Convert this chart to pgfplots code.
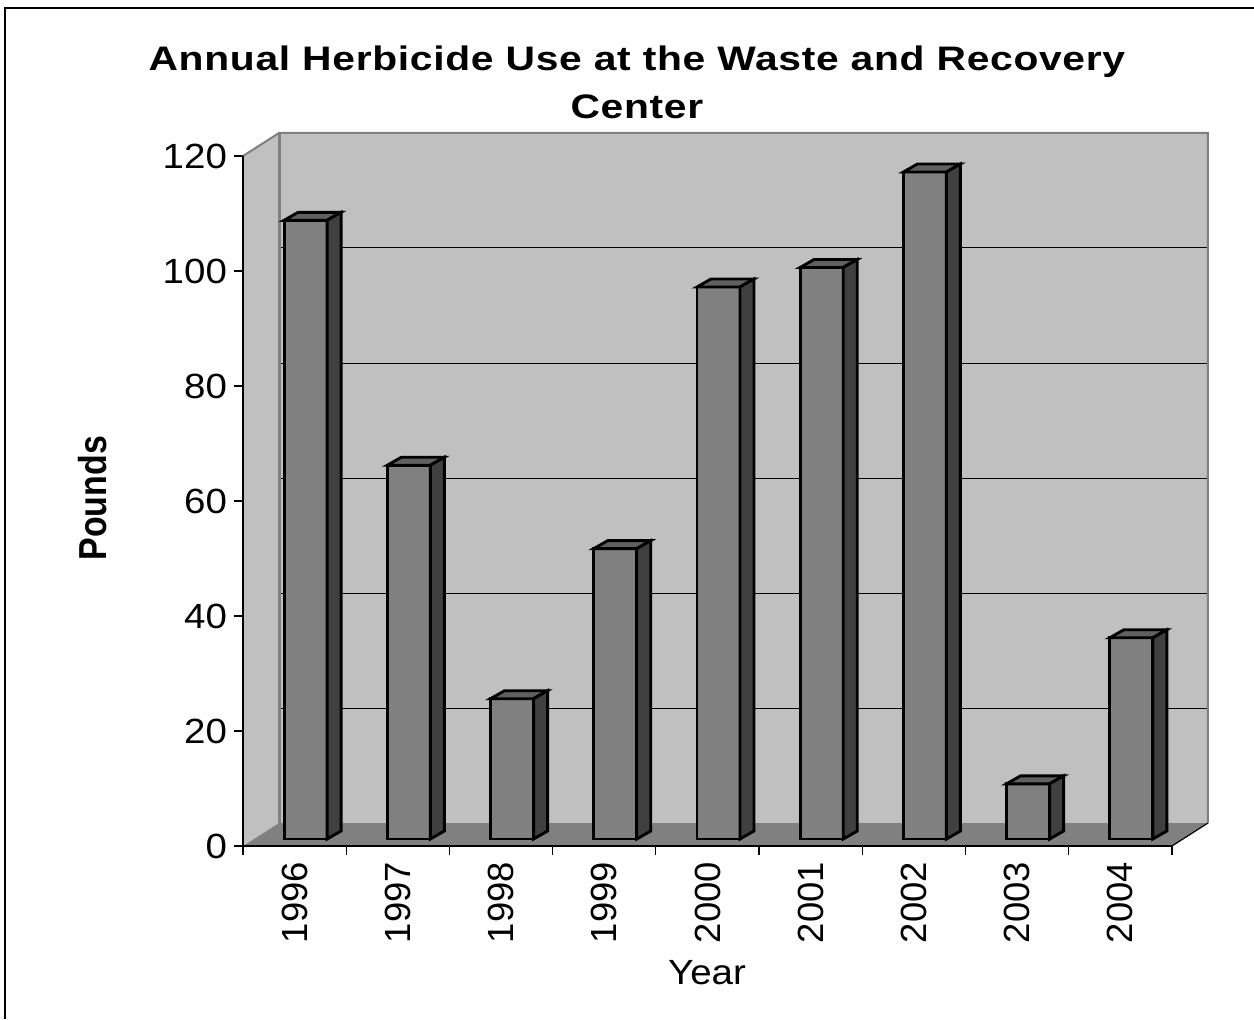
\documentclass[border=0pt]{standalone}
\usepackage{pgfplots}
\pgfplotsset{compat=1.18}
\usepackage{pgfplotstable}
\usepackage{fontspec}
\setmainfont{Liberation Sans}
\newfontfamily\titlefont[FakeStretch=1.2,LetterSpace=2]{Liberation Sans}
\newfontfamily\widefont[FakeStretch=1.1]{Liberation Sans}
\newfontfamily\tallfont[FakeStretch=0.87]{Liberation Sans}
\definecolor{wallc}{HTML}{C0C0C0}
\definecolor{floorc}{HTML}{808080}
\definecolor{edgec}{HTML}{808080}
\definecolor{barfront}{HTML}{808080}
\definecolor{bartop}{HTML}{606060}
\definecolor{barside}{HTML}{404040}

\pgfplotstableread{
x v
0 107.6
1 65
2 24.4
3 50.5
4 96
5 99.4
6 116
7 9.6
8 35
}\herb

\pgfdeclareplotmark{bar3d}{%
  \pgfmathsetmacro\hb{-\barval*2.875}%
  \pgfmathsetmacro\hs{4-\barval*2.875}%
  \pgfsetlinewidth{1.45pt}%
  \pgfsetstrokecolor{black}%
  \pgfsetmiterjoin
  \pgfsetfillcolor{barfront}%
  \pgfpathrectanglecorners{\pgfqpoint{-10.75pt}{\hb pt}}{\pgfqpoint{10.75pt}{0pt}}%
  \pgfusepath{fill,stroke}%
  \pgfsetfillcolor{bartop}%
  \pgfpathmoveto{\pgfqpoint{-10.75pt}{0pt}}%
  \pgfpathlineto{\pgfqpoint{10.75pt}{0pt}}%
  \pgfpathlineto{\pgfqpoint{17.75pt}{4pt}}%
  \pgfpathlineto{\pgfqpoint{-3.75pt}{4pt}}%
  \pgfpathclose
  \pgfusepath{fill,stroke}%
  \pgfsetfillcolor{barside}%
  \pgfpathmoveto{\pgfqpoint{10.75pt}{0pt}}%
  \pgfpathlineto{\pgfqpoint{17.75pt}{4pt}}%
  \pgfpathlineto{\pgfqpoint{17.75pt}{\hs pt}}%
  \pgfpathlineto{\pgfqpoint{10.75pt}{\hb pt}}%
  \pgfpathclose
  \pgfusepath{fill,stroke}%
}

\begin{document}
\begin{tikzpicture}
\useasboundingbox (-121.5pt,-86.5pt) rectangle (505.5pt,423pt);
\draw[black, line width=1pt] (-119pt,-86.5pt) -- (-119pt,419pt) -- (505.5pt,419pt);
\begin{axis}[
  at={(0pt,0pt)}, anchor=south west,
  x=51.61pt, y=2.875pt,
  xmin=-0.5, xmax=8.5, ymin=0, ymax=120,
  enlargelimits=false, clip=false,
  axis on top,
  axis x line*=bottom, axis y line*=left,
  axis line style={black, line width=0.6pt, -},
  tick align=outside,
  major tick length=4.5pt,
  tick style={black, line width=0.6pt},
  /pgf/number format/assume math mode=true,
  xtick={-0.5,0.5,...,8.5},
  x tick label as interval,
  xticklabels={1996,1997,1998,1999,2000,2001,2002,2003,2004},
  xticklabel style={rotate=90, anchor=east, font=\fontsize{18.2}{20}\selectfont},
  ytick={0,20,...,120},
  yticklabel style={font=\widefont\fontsize{17.5}{20}\selectfont},
  title={Annual Herbicide Use at the Waste and Recovery\\Center},
  title style={at={(axis description cs:0.424,1.089)}, anchor=center, align=center,
    font=\titlefont\bfseries\fontsize{17}{24}\selectfont},
  xlabel={Year},
  xlabel style={at={(axis description cs:0.4995,-0.184)}, anchor=center,
    font=\widefont\fontsize{17.5}{20}\selectfont},
  ylabel={Pounds},
  ylabel style={at={(axis description cs:-0.1615,0.504)}, anchor=center,
    font=\tallfont\bfseries\fontsize{19.5}{22}\selectfont},
]
% left wall
\fill[wallc] (axis cs:-0.5,0) -- (axis cs:-0.5,120) -- (axis cs:-0.1512,124) -- (axis cs:-0.1512,4) -- cycle;
% back wall
\fill[wallc] (axis cs:-0.1512,4) rectangle (axis cs:8.8488,124);
% floor
\fill[floorc] (axis cs:-0.5,0) -- (axis cs:-0.1512,4) -- (axis cs:8.8488,4) -- (axis cs:8.5,0) -- cycle;
% gridlines on back wall
\pgfplotsinvokeforeach{24,44,64,84,104}{
  \draw[black, line width=0.5pt] (axis cs:-0.1512,#1) -- (axis cs:8.8488,#1);
}
% edges
\draw[edgec, line width=1pt] (axis cs:-0.5,120) -- (axis cs:-0.1512,124) -- (axis cs:8.8488,124) -- (axis cs:8.8488,4);
\draw[edgec, line width=1.5pt] (axis cs:-0.1512,4) -- (axis cs:-0.1512,124);
\draw[black, line width=0.6pt] (axis cs:8.5,0) -- (axis cs:8.8488,4);
% bars
\addplot[only marks, mark=bar3d,
  visualization depends on={\thisrow{v} \as \barval}]
  table[x expr=\thisrow{x}+0.1066, y expr=\thisrow{v}+1.217]{\herb};
\end{axis}
\end{tikzpicture}
\end{document}
